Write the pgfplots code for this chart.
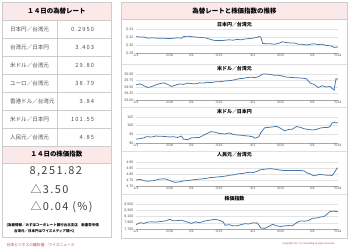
\documentclass[border=0pt]{standalone}
\usepackage{pgfplots}
\pgfplotsset{compat=1.18}
\usepackage{fontspec}
\setmainfont{Noto Sans CJK JP}
\newfontfamily\numfont[LetterSpace=18]{Noto Sans CJK JP}
\newfontfamily\bignum[LetterSpace=13]{Noto Sans CJK JP}
\newfontfamily\latin{Liberation Sans}
\definecolor{pinkband}{RGB}{251,233,233}
\definecolor{bordergray}{RGB}{205,205,205}
\definecolor{lineblue}{RGB}{70,118,168}
\definecolor{redtext}{RGB}{205,70,70}
\definecolor{ticktext}{RGB}{85,85,85}
\definecolor{celltext}{RGB}{80,80,80}
\newcommand{\fs}[1]{\fontsize{#1}{#1}\selectfont}
\pgfplotsset{
  mini/.style={
    scale only axis, width=202bp, xmin=0, xmax=102,
    axis x line*=bottom, axis y line*=left,
    y axis line style={draw=none},
    x axis line style={draw=gray!70, line width=0.5bp},
    major tick length=0pt,
    ymajorgrids, grid style={draw=gray!22, line width=0.35bp},
    xtick={0,17,28,42,59,73,89,102},
    xticklabels={2/1,2/18,3/1,3/15,4/1,4/15,5/1,5/14},
    tick label style={font=\latin\fs{3.6}, text=ticktext, inner sep=1bp},
    yticklabel style={xshift=-1.5bp},
    anchor=south west,
    clip=false,
  },
  ser/.style={lineblue, line width=0.75bp, mark=none},
}
\begin{document}
\begin{tikzpicture}
\useasboundingbox (0,0) rectangle (350bp,249bp);
\fill[white] (0,0) rectangle (350bp,249bp);
\begin{scope}[x=1bp, y=-1bp, shift={(0pt,249bp)}]
% ---------- left panel ----------
\fill[pinkband] (2,2) rectangle (111,20);
\fill[pinkband] (2,146) rectangle (111,163);
\foreach \yy in {20,38,56,74,92,110,128,146,163}
  \draw[bordergray, line width=0.5bp] (2,\yy) -- (111,\yy);
\draw[bordergray, line width=0.5bp] (57.5,20) -- (57.5,146);
\draw[bordergray, line width=0.5bp] (2,2) rectangle (111,237);
\node[font=\bfseries\fs{6.5}] at (56.5,11) {１４日の為替レート};
\foreach \yy/\lab/\val in {29/日本円／台湾元/0.2950, 47/台湾元／日本円/3.403, 65/米ドル／台湾元/29.80,
   83/ユーロ／台湾元/38.79, 101/香港ドル／台湾元/3.84, 119/米ドル／日本円/101.55, 137/人民元／台湾元/4.85}{
  \node[anchor=west, font=\fs{5.6}, text=celltext] at (6.5,\yy) {\lab};
  \node[anchor=east, font=\numfont\fs{5.8}, text=celltext] at (97.5,\yy) {\val};
}
\node[font=\bfseries\fs{6.5}] at (56.5,154.5) {１４日の株価指数};
\node[anchor=west, font=\bignum\fs{11}, text=black!75] at (26,172) {8,251.82};
\node[anchor=west, font=\bignum\fs{11}, text=black!75] at (27,189.5) {△3.50};
\node[anchor=west, font=\bignum\fs{11}, text=black!75] at (27,207) {△0.04 (\%)};
\node[anchor=west, font=\bfseries\fs{3.5}, inner sep=0] at (6.5,225.5) {(為替情報／みずほコーポレート銀行台北支店　新臺幣中價};
\node[anchor=west, font=\bfseries\fs{3.5}, inner sep=0] at (14,231.5) {台湾元／日本円はワイズメディア調べ)};
\node[anchor=west, font=\fs{3.8}, text=redtext, inner sep=0] at (6.5,245) {台湾ビジネスの羅針盤　ワイズニュース};
% ---------- right panel ----------
\fill[pinkband] (121.5,2) rectangle (347,19.5);
\draw[bordergray, line width=0.5bp] (121.5,19.5) -- (347,19.5);
\foreach \yy in {64,107.5,151,194.5}
  \draw[gray!25, line width=0.5bp] (121.5,\yy) -- (347,\yy);
\draw[bordergray, line width=0.5bp] (121.5,2) rectangle (347,238);
\node[font=\bfseries\fs{6.5}] at (234.5,11) {為替レートと株価指数の推移};
\node[font=\bfseries\fs{5}] at (234.5,24.5) {日本円／台湾元};
\node[font=\bfseries\fs{5}] at (234.5,68.5) {米ドル／台湾元};
\node[font=\bfseries\fs{5}] at (234.5,112) {米ドル／日本円};
\node[font=\bfseries\fs{5}] at (234.5,155) {人民元／台湾元};
\node[font=\bfseries\fs{5}] at (234.5,198.5) {株価指数};
\node[anchor=east, font=\latin\fs{2.6}, text=redtext, inner sep=0] at (335,244) {Copyright (C) Y's consulting all right reserved.};
\end{scope}

% chart 1: JPY/TWD
\begin{axis}[mini, at={(136bp,196bp)}, height=24bp, ymin=0.28, ymax=0.34,
  ytick={0.28,0.30,0.32,0.34}, yticklabels={0.28,0.30,0.32,0.34}]
\addplot[ser] coordinates {(0,0.321)(2,0.320)(4,0.320)(6,0.317)(8,0.318)(11,0.317)(14,0.317)(17,0.316)(19,0.317)(21,0.318)(23,0.317)(24,0.321)(26,0.322)(28,0.321)(30,0.320)(32,0.319)(35,0.318)(37,0.315)(39,0.312)(41,0.311)(43,0.311)(45,0.312)(47,0.313)(49,0.312)(51,0.314)(53,0.313)(55,0.315)(57,0.316)(59,0.317)(61,0.319)(62,0.321)(63,0.320)(64,0.304)(66,0.303)(68,0.303)(70,0.302)(72,0.304)(74,0.308)(76,0.306)(78,0.305)(80,0.305)(82,0.302)(84,0.302)(86,0.300)(88,0.302)(90,0.303)(92,0.301)(94,0.302)(96,0.299)(98,0.298)(99,0.297)(100,0.294)(102,0.295)};
\end{axis}

% chart 2: USD/TWD
\begin{axis}[mini, at={(136bp,149bp)}, height=26bp, ymin=29, ymax=30,
  ytick={29,29.25,29.5,29.75,30}, yticklabels={29.00,29.25,29.50,29.75,30.00}]
\addplot[ser] coordinates {(0,29.58)(2,29.62)(4,29.55)(6,29.48)(8,29.52)(10,29.58)(12,29.63)(14,29.66)(16,29.60)(18,29.52)(20,29.57)(22,29.62)(24,29.60)(26,29.65)(28,29.63)(30,29.62)(32,29.66)(34,29.65)(36,29.68)(38,29.67)(40,29.70)(42,29.70)(44,29.72)(46,29.74)(48,29.75)(50,29.78)(52,29.82)(54,29.83)(56,29.86)(58,29.88)(60,29.86)(62,29.90)(64,30.00)(66,30.00)(68,29.98)(70,29.95)(72,29.95)(74,29.92)(76,29.88)(78,29.87)(80,29.86)(82,29.85)(84,29.84)(86,29.82)(88,29.65)(90,29.60)(92,29.48)(94,29.55)(96,29.50)(98,29.52)(100,29.38)(101,29.82)(102,29.80)};
\end{axis}

% chart 3: USD/JPY
\begin{axis}[mini, at={(136bp,106bp)}, height=26bp, ymin=90, ymax=105,
  ytick={90,95,100,105}, yticklabels={90,95,100,105}]
\addplot[ser] coordinates {(0,92.2)(2,92.5)(4,93.0)(5,93.6)(8,93.5)(10,94.0)(14,93.8)(17,93.5)(19,93.6)(21,93.2)(23,94.0)(24,92.2)(26,91.9)(28,93.0)(32,93.2)(35,95.0)(38,96.6)(40,96.2)(42,95.5)(45,95.2)(47,95.8)(49,95.0)(51,94.6)(53,94.5)(55,94.2)(57,94.0)(59,93.6)(60,92.8)(62,93.5)(63,96.0)(65,98.8)(67,99.0)(69,99.3)(71,99.6)(73,98.5)(75,97.0)(77,97.8)(79,98.0)(81,99.5)(83,99.0)(85,98.2)(87,97.8)(89,97.5)(91,97.8)(93,98.6)(95,99.0)(97,99.0)(98,99.5)(99,101.5)(100,101.8)(102,101.6)};
\end{axis}

% chart 4: CNY/TWD
\begin{axis}[mini, at={(136bp,63bp)}, height=24bp, ymin=4.70, ymax=4.90,
  ytick={4.70,4.75,4.80,4.85,4.90}, yticklabels={4.70,4.75,4.80,4.85,4.90}]
\addplot[ser] coordinates {(0,4.750)(2,4.755)(4,4.745)(5.4,4.740)(7,4.742)(9,4.745)(12,4.758)(14.6,4.760)(16,4.752)(17.2,4.745)(19.7,4.730)(22,4.735)(24,4.742)(26,4.745)(29,4.752)(31,4.756)(34,4.760)(36,4.765)(37.4,4.770)(39,4.772)(41,4.775)(44,4.780)(46,4.785)(47.5,4.790)(50,4.795)(51,4.800)(54,4.805)(56,4.812)(58,4.815)(59,4.812)(61,4.820)(62.6,4.835)(64,4.838)(66,4.842)(68,4.845)(70,4.840)(72,4.835)(74,4.830)(76,4.830)(80,4.830)(83,4.830)(85,4.825)(86,4.812)(88,4.800)(89.6,4.785)(91,4.790)(93,4.797)(95,4.792)(96.5,4.790)(98,4.790)(99,4.786)(100.5,4.820)(101.5,4.848)(102,4.850)};
\end{axis}

% chart 5: TAIEX
\begin{axis}[mini, at={(136bp,20bp)}, height=25bp, ymin=7700, ymax=8500,
  ytick={7700,7900,8100,8300,8500}, yticklabels={{7,700},{7,900},{8,100},{8,300},{8,500}}]
\addplot[ser] coordinates {(0,7840)(2,7900)(4,7880)(6,7920)(8,7930)(10,7920)(15,7960)(17,8010)(19,7960)(21,7970)(23,7980)(25,7940)(27,7900)(28,7880)(30,7930)(32,7900)(35,7960)(38,7990)(40,8010)(42,7980)(44,7930)(45,7820)(47,7840)(49,7800)(51,7800)(53,7840)(55,7870)(57,7860)(59,7900)(60,7890)(61,7900)(62,7830)(63,7730)(65,7720)(67,7780)(69,7850)(71,7800)(73,7780)(75,7800)(77,7810)(79,7800)(81,7900)(83,7960)(85,7950)(87,7970)(89,8040)(91,8050)(93,8080)(95,8100)(96,8150)(98,8260)(100,8270)(102,8250)};
\end{axis}
\end{tikzpicture}
\end{document}
